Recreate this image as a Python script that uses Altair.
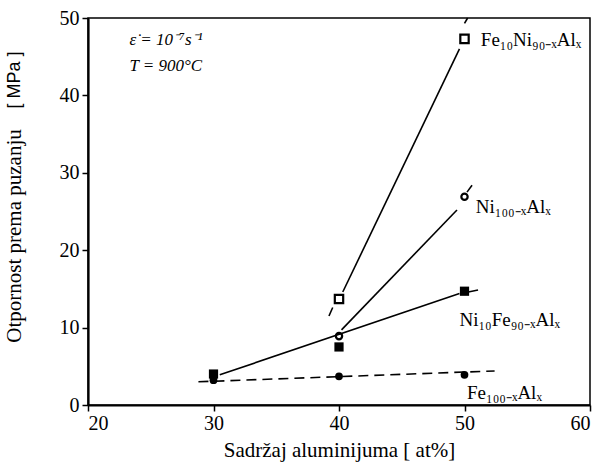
import altair as alt
import pandas as pd

# ---- measured points ----
fe10ni_x = [40, 50]
fe10ni_y = [13.7, 47.3]
ni_x = [40, 50]
ni_y = [8.9, 26.9]
ni10fe_x = [30, 40, 50]
ni10fe_y = [4.0, 7.5, 14.7]
fe_x = [30, 40, 50]
fe_y = [3.2, 3.7, 3.9]

# ---- trend line segments (data coordinates) ----
solid_seg = ["fe10ni", "fe10ni", "ni", "ni", "ni10fe", "ni10fe"]
solid_x = [40.3, 49.6, 40.2, 49.4, 30.5, 49.6]
solid_y = [14.6, 46.0, 9.7, 25.2, 3.9, 14.4]

dash_seg = ["a", "a", "b", "b", "c", "c", "d", "d", "e", "e"]
dash_x = [39.2, 39.5, 50.0, 50.25, 50.2, 50.6, 50.3, 51.2, 28.8, 52.4]
dash_y = [11.5, 12.6, 49.3, 50.0, 27.5, 28.4, 14.6, 14.9, 3.0, 4.4]

# ---- labels ----
lab_text = ["Fe₁₀Ni₉₀₋ₓAlₓ", "Ni₁₀₀₋ₓAlₓ", "Ni₁₀Fe₉₀₋ₓAlₓ", "Fe₁₀₀₋ₓAlₓ"]
lab_x = [51.3, 50.9, 49.6, 50.2]
lab_y = [47.2, 25.6, 11.0, 1.6]

cond_text = ["ε̇ = 10⁻⁷s⁻¹", "T = 900°C"]
cond_x = [23.3, 23.3]
cond_y = [47.2, 43.8]

x_ticks = [20, 30, 40, 50, 60]
y_ticks = [0, 10, 20, 30, 40, 50]

SERIF = "Times New Roman, Liberation Serif, serif"
SANS = "Liberation Sans"

xs = alt.Scale(domain=[20, 60], nice=False, zero=False)
ys = alt.Scale(domain=[0, 50], nice=False)

x_axis = alt.Axis(values=x_ticks, title="Sadržaj aluminijuma [ at%]", titleFont=SERIF,
                  titleFontSize=21, titleFontWeight="normal", titleColor="black",
                  titlePadding=6, labelPadding=2, format="d",
                  labelFont=SERIF, labelFontSize=20, labelColor="black")
y_axis = alt.Axis(values=y_ticks, title=None, format="d", labelPadding=3,
                  labelFont=SERIF, labelFontSize=20, labelColor="black")

def X(f="x"):
    return alt.X(f + ":Q", scale=xs, axis=x_axis)

def Y(f="y"):
    return alt.Y(f + ":Q", scale=ys, axis=y_axis)

def pts(xv, yv):
    return pd.DataFrame({"x": xv, "y": yv})

solid_df = pd.DataFrame({"seg": solid_seg, "x": solid_x, "y": solid_y})
dash_df = pd.DataFrame({"seg": dash_seg, "x": dash_x, "y": dash_y})

solid = alt.Chart(solid_df).mark_line(color="black", strokeWidth=1.6).encode(
    x=X(), y=Y(), detail="seg:N")
dashed = alt.Chart(dash_df).mark_line(color="black", strokeWidth=1.6, strokeDash=[10, 6]).encode(
    x=X(), y=Y(), detail="seg:N")

open_sq = alt.Chart(pts(fe10ni_x, fe10ni_y)).mark_point(
    shape="square", filled=False, color="black", strokeWidth=2.2, size=70, opacity=1).encode(x=X(), y=Y())
open_ci = alt.Chart(pts(ni_x, ni_y)).mark_point(
    shape="circle", filled=False, color="black", strokeWidth=2.2, size=40, opacity=1).encode(x=X(), y=Y())
fill_sq = alt.Chart(pts(ni10fe_x, ni10fe_y)).mark_point(
    shape="square", filled=True, color="black", size=85, opacity=1).encode(x=X(), y=Y())
fill_ci = alt.Chart(pts(fe_x, fe_y)).mark_point(
    shape="circle", filled=True, color="black", size=60, opacity=1).encode(x=X(), y=Y())

labels = alt.Chart(pd.DataFrame({"x": lab_x, "y": lab_y, "t": lab_text})).mark_text(
    align="left", baseline="middle", font=SERIF, fontSize=19, color="black").encode(
    x=X(), y=Y(), text="t:N")

cond = alt.Chart(pd.DataFrame({"x": cond_x, "y": cond_y, "t": cond_text})).mark_text(
    align="left", baseline="middle", font=SERIF, fontSize=17, fontStyle="italic", color="black").encode(
    x=X(), y=Y(), text="t:N")

ytitle1 = alt.Chart(pd.DataFrame({"t": ["Otpornost prema puzanju"]})).mark_text(
    angle=270, align="center", baseline="middle", font=SERIF, fontSize=21, color="black").encode(
    x=alt.value(-73), y=alt.value(218), text="t:N")
ytitle2 = alt.Chart(pd.DataFrame({"t": ["[ MPa ]"]})).mark_text(
    angle=270, align="center", baseline="middle", font=SANS, fontSize=18, color="black").encode(
    x=alt.value(-73), y=alt.value(62), text="t:N")

chart = alt.layer(solid, dashed, open_sq, open_ci, fill_sq, fill_ci, labels, cond, ytitle1, ytitle2).properties(
    width=502, height=387,
    autosize=alt.AutoSizeParams(type="none"),
    padding={"left": 88, "top": 18, "right": 15, "bottom": 65},
    background="white",
).configure_view(stroke="black", strokeWidth=1.5).configure_axis(
    grid=False, domainColor="black", domainWidth=2.2, tickColor="black", tickSize=6,
    tickWidth=1.5,
)

chart.save("out.html", embed_options={"renderer": "svg", "actions": False})
